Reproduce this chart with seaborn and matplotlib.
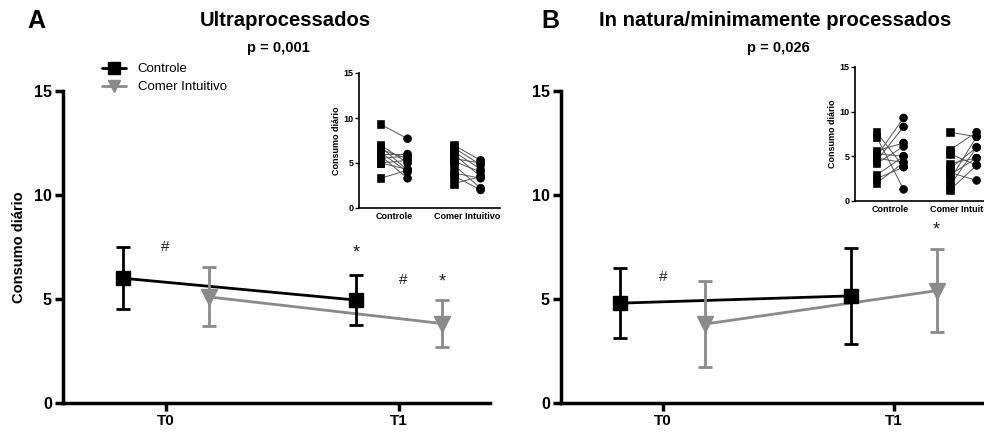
import matplotlib
matplotlib.use("Agg")
import matplotlib.pyplot as plt
from matplotlib.lines import Line2D
import seaborn as sns
import numpy as np
import pandas as pd

sns.set_theme(style="ticks")
plt.rcParams['font.family'] = ['Liberation Sans', 'DejaVu Sans']
plt.rcParams['text.color'] = 'black'
plt.rcParams['axes.labelcolor'] = 'black'
plt.rcParams['xtick.color'] = 'black'
plt.rcParams['ytick.color'] = 'black'

# ---------------- data ----------------
times = ["T0", "T1"]
groups = ["Controle", "Comer Intuitivo"]

# Panel A: Ultraprocessados (mean, sd)
a_ctrl_mean = [6.0, 4.95]
a_ctrl_sd = [1.5, 1.2]
a_ci_mean = [5.1, 3.82]
a_ci_sd = [1.42, 1.14]

# Panel B: In natura/minimamente processados
b_ctrl_mean = [4.8, 5.15]
b_ctrl_sd = [1.68, 2.3]
b_ci_mean = [3.8, 5.4]
b_ci_sd = [2.05, 1.98]

# Inset raw pairs (T0, T1)
a_ctrl_t0 = [9.3, 7.0, 6.8, 6.5, 6.2, 6.0, 5.8, 5.5, 5.0, 5.0, 3.3]
a_ctrl_t1 = [7.7, 5.0, 4.2, 5.5, 4.0, 6.0, 3.3, 5.8, 4.3, 5.3, 4.2]
a_ci_t0 = [7.0, 6.7, 6.3, 6.0, 5.5, 5.2, 4.8, 3.9, 3.6, 2.7]
a_ci_t1 = [5.3, 4.8, 4.3, 3.5, 5.0, 4.0, 2.2, 3.3, 2.0, 3.5]

b_ctrl_t0 = [7.7, 7.2, 5.6, 5.3, 5.0, 4.8, 4.5, 4.2, 2.9, 2.5, 2.0]
b_ctrl_t1 = [3.8, 1.3, 6.5, 5.0, 9.3, 4.3, 8.3, 6.1, 5.0, 3.8, 4.3]
b_ci_t0 = [7.7, 5.7, 5.3, 4.2, 3.6, 3.2, 2.9, 2.3, 1.7, 1.2]
b_ci_t1 = [7.2, 7.7, 4.0, 4.8, 6.0, 2.3, 4.8, 7.2, 6.0, 4.0]

# annotations (label, time index, group offset sign, y)
a_marks = [("#", 0, 0.0, 7.5), ("*", 1, -1, 7.2), ("#", 1, 0.02, 5.9), ("*", 1, 1, 5.8)]
b_marks = [("#", 0, 0.0, 6.05), ("*", 1, 1, 8.3)]

BLACK = "#000000"
GRAY = "#8a8a8a"
OFF = 0.185

W, H = 984, 434
fig = plt.figure(figsize=(W / 100, H / 100), dpi=100)


def fx(px):
    return px / W


def fy(py):
    return 1 - py / H


def main_panel(ax, cm, cs, im, isd, marks, ylabel):
    x = np.arange(len(times))
    df = pd.DataFrame({
        "x": np.concatenate([x - OFF, x + OFF]),
        "y": cm + im,
        "g": [groups[0]] * 2 + [groups[1]] * 2,
    })
    sns.lineplot(data=df, x="x", y="y", hue="g", palette=[BLACK, GRAY],
                 legend=False, ax=ax, lw=2, zorder=2)
    ax.errorbar(x - OFF, cm, yerr=cs, fmt="s", color=BLACK, ms=10,
                capsize=5, elinewidth=2, capthick=2, zorder=3)
    ax.errorbar(x + OFF, im, yerr=isd, fmt="v", color=GRAY, ms=11,
                capsize=5, elinewidth=2, capthick=2, zorder=3)
    for lab, ti, sgn, yv in marks:
        ax.text(ti + sgn * OFF if sgn in (-1, 1) else ti + sgn, yv, lab,
                ha="center", va="center", fontsize=11 if lab == "#" else 13,
                color="#222222")
    ax.set_xlim(-0.44, 1.39)
    ax.set_ylim(0, 15)
    ax.set_xticks(x)
    ax.set_xticklabels(times, fontsize=11, fontweight="bold")
    ax.set_yticks([0, 5, 10, 15])
    ax.set_yticklabels(["0", "5", "10", "15"], fontsize=11.5, fontweight="bold")
    ax.set_xlabel("")
    ax.set_ylabel(ylabel, fontsize=10.5, fontweight="bold", labelpad=6)
    for s in ["top", "right"]:
        ax.spines[s].set_visible(False)
    for s in ["left", "bottom"]:
        ax.spines[s].set_linewidth(2.5)
        ax.spines[s].set_color("black")
    ax.tick_params(width=2.5, length=6, color="black", pad=2)
    ax.set_facecolor("none")


def inset(ax, c0, c1, i0, i1):
    rows = []
    sid = 0
    for gi, (t0, t1) in enumerate([(c0, c1), (i0, i1)]):
        for v0, v1 in zip(t0, t1):
            rows.append({"x": gi - OFF, "y": v0, "s": sid, "t": "T0"})
            rows.append({"x": gi + OFF, "y": v1, "s": sid, "t": "T1"})
            sid += 1
    df = pd.DataFrame(rows)
    sns.lineplot(data=df, x="x", y="y", units="s", estimator=None,
                 color="#555555", lw=0.7, ax=ax, zorder=1)
    sns.scatterplot(data=df, x="x", y="y", style="t", markers={"T0": "s", "T1": "o"},
                    color="black", s=32, edgecolor="black", legend=False, ax=ax, zorder=2)
    ax.set_xlim(-0.48, 1.45)
    ax.set_ylim(0, 15)
    ax.set_xticks([0, 1])
    ax.set_xticklabels(groups, fontsize=6.5, fontweight="bold")
    ax.tick_params(axis="x", length=0, pad=3)
    ax.set_yticks([0, 5, 10, 15])
    ax.set_yticklabels(["0", "5", "10", "15"], fontsize=6.5, fontweight="bold")
    ax.tick_params(axis="y", length=3, width=1, pad=1)
    ax.set_xlabel("")
    ax.set_ylabel("Consumo diário", fontsize=6.5, fontweight="bold", labelpad=2)
    for s in ["top", "right"]:
        ax.spines[s].set_visible(False)
    for s in ["left", "bottom"]:
        ax.spines[s].set_linewidth(1.2)
        ax.spines[s].set_color("black")
    ax.set_facecolor("white")


axA = fig.add_axes([fx(63), fy(403), fx(490 - 63), fy(91) - fy(403)])
main_panel(axA, a_ctrl_mean, a_ctrl_sd, a_ci_mean, a_ci_sd, a_marks, "Consumo diário")
axB = fig.add_axes([fx(561), fy(403), fx(984 - 561), fy(91) - fy(403)])
main_panel(axB, b_ctrl_mean, b_ctrl_sd, b_ci_mean, b_ci_sd, b_marks, "")

insA = fig.add_axes([fx(359), fy(208), fx(141), fy(73) - fy(208)])
inset(insA, a_ctrl_t0, a_ctrl_t1, a_ci_t0, a_ci_t1)
insB = fig.add_axes([fx(855), fy(201), fx(141), fy(67) - fy(201)])
inset(insB, b_ctrl_t0, b_ctrl_t1, b_ci_t0, b_ci_t1)

# titles
fig.text(fx(36), fy(21), "A", fontsize=18, fontweight="bold", ha="center", va="center")
fig.text(fx(285), fy(21), "Ultraprocessados", fontsize=14.6, fontweight="bold",
         ha="center", va="center")
fig.text(fx(278), fy(48), "p = 0,001", fontsize=10.5, fontweight="bold", ha="center", va="center")
fig.text(fx(550), fy(21), "B", fontsize=18, fontweight="bold", ha="center", va="center")
fig.text(fx(775), fy(21), "In natura/minimamente processados", fontsize=14.6,
         fontweight="bold", ha="center", va="center")
fig.text(fx(778), fy(48), "p = 0,026", fontsize=10.5, fontweight="bold", ha="center", va="center")

handles = [
    Line2D([], [], color=BLACK, marker="s", ms=8, lw=2),
    Line2D([], [], color=GRAY, marker="v", ms=8, lw=2),
]
fig.legend(handles, groups, loc="upper left", bbox_to_anchor=(fx(102), fy(63)),
           frameon=False, fontsize=9.5, handlelength=1.8, labelspacing=0.45,
           borderaxespad=0, borderpad=0, handletextpad=0.9)

fig.savefig("out.png", dpi=100, facecolor="white")
